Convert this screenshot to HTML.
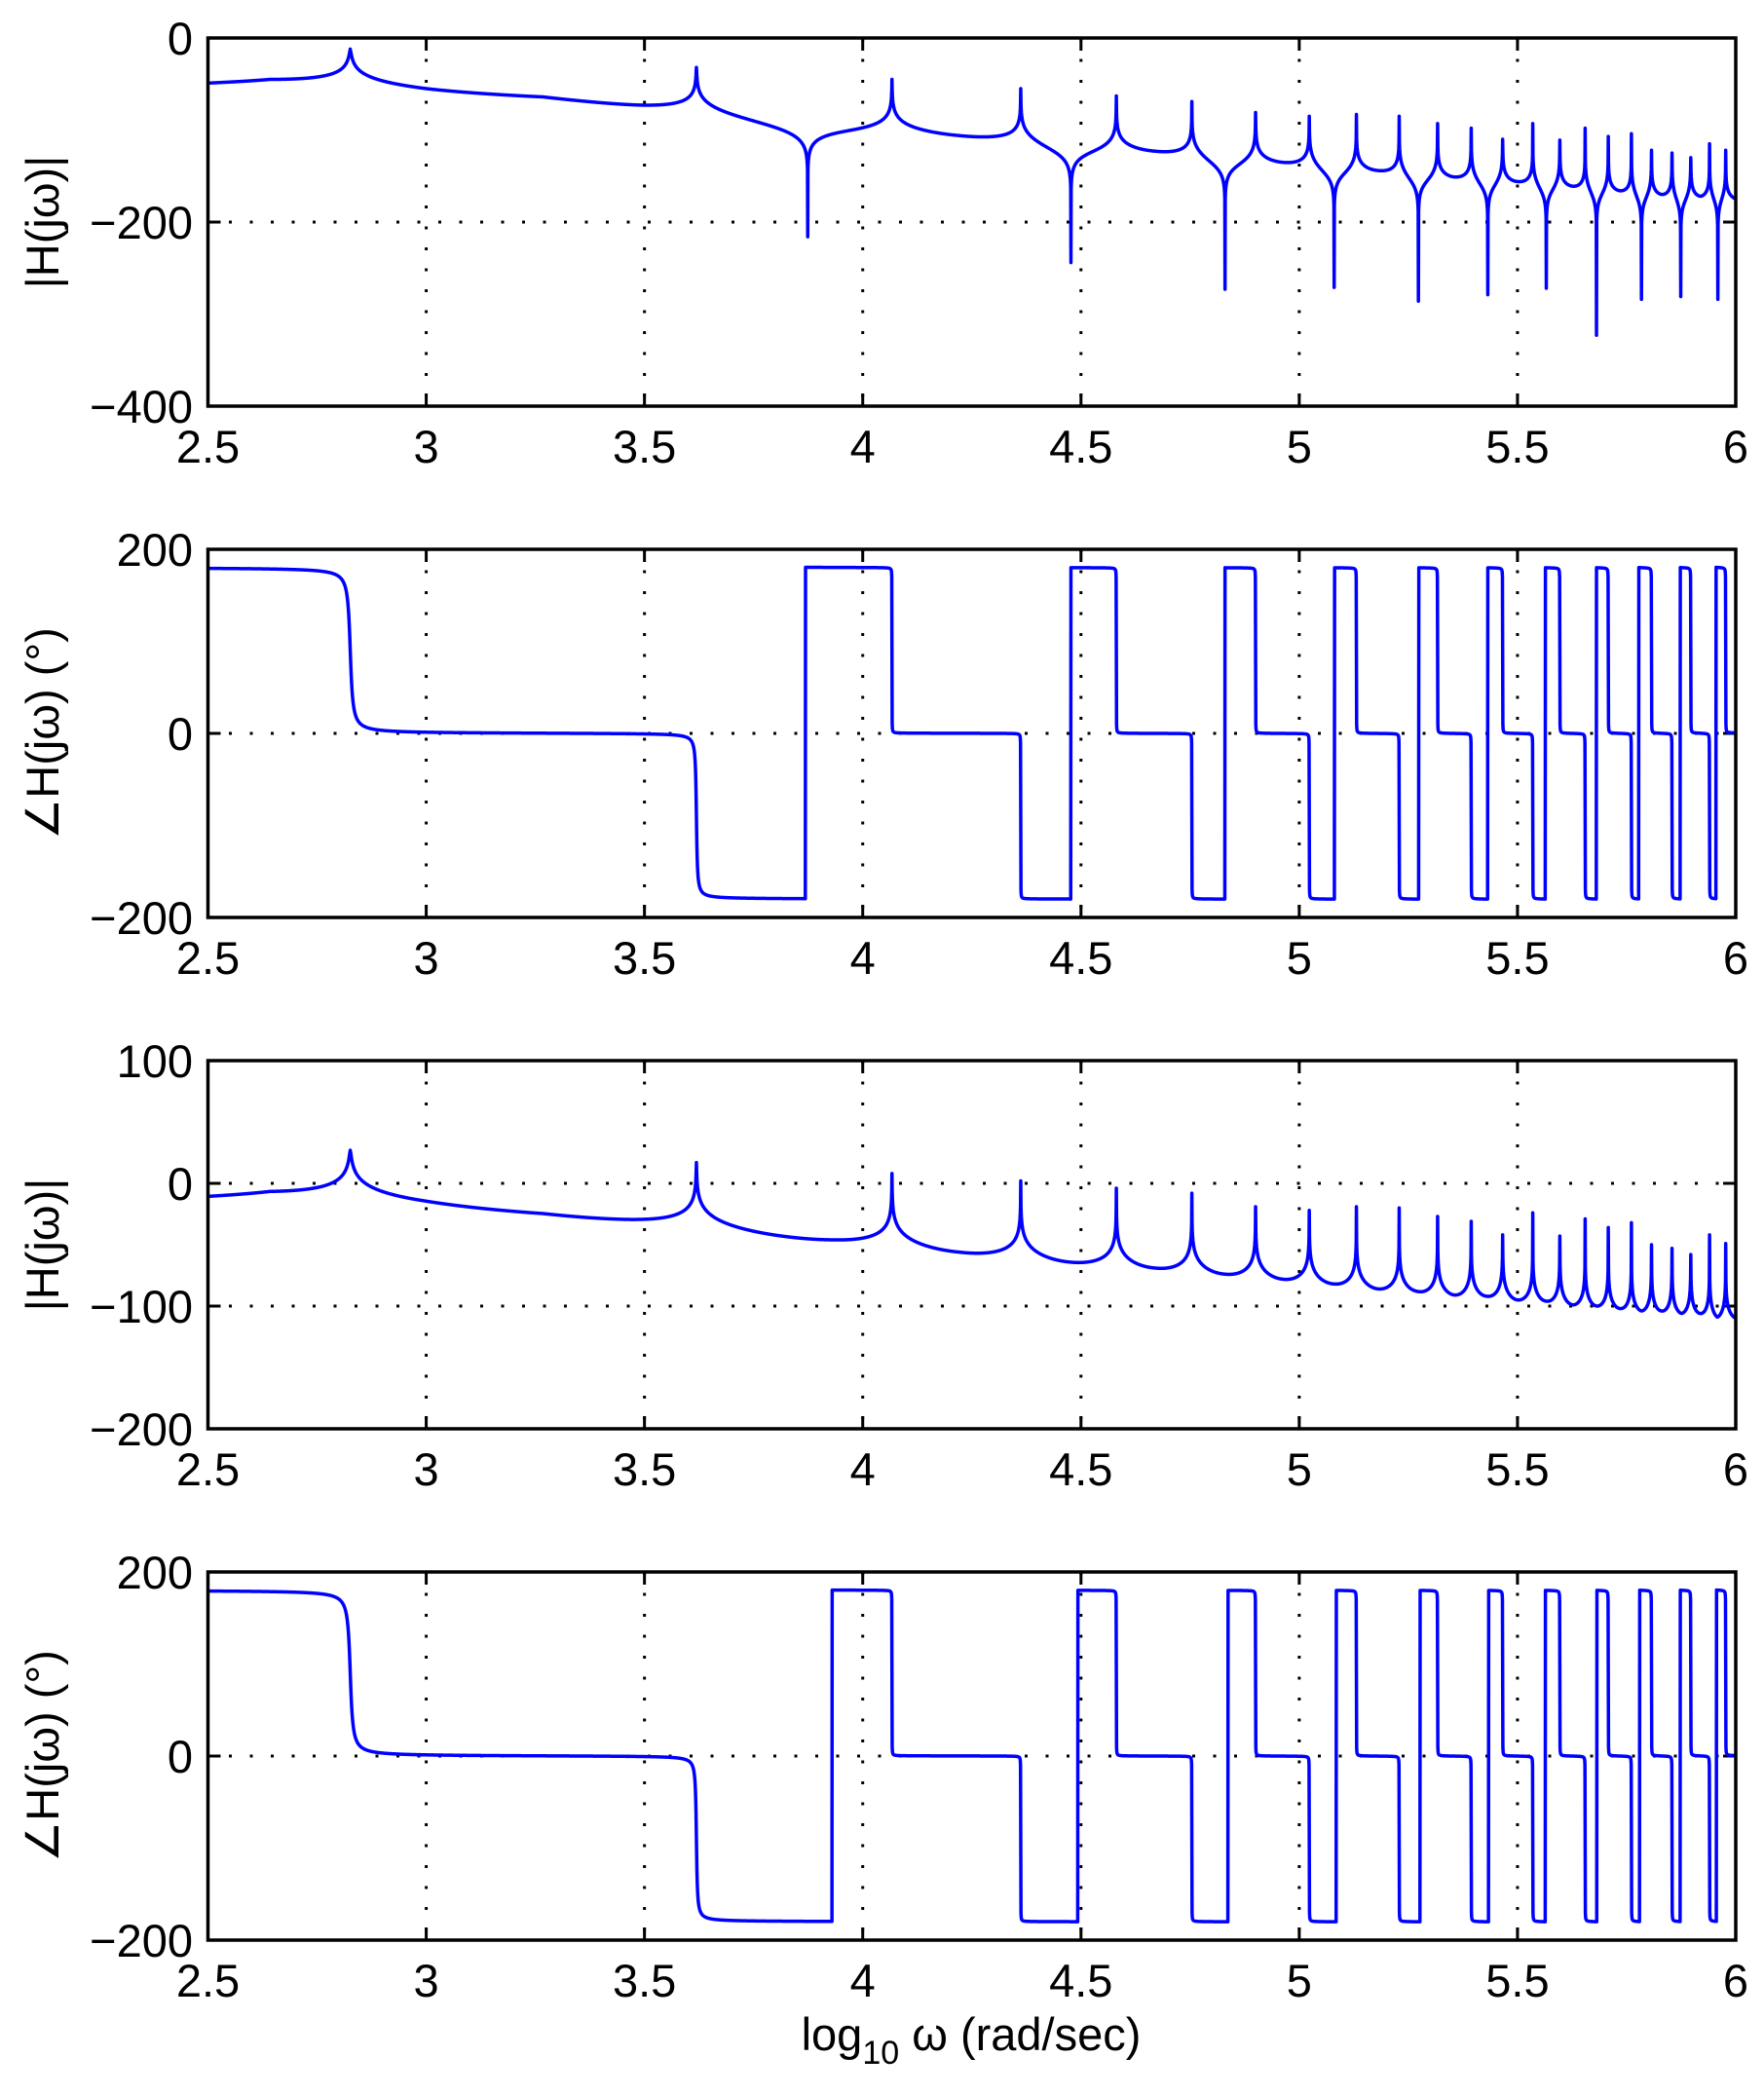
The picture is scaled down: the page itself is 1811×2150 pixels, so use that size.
<!DOCTYPE html>
<html><head><meta charset="utf-8"><style>html,body{margin:0;padding:0;background:#fff}svg{display:block}</style></head>
<body>
<svg id="s" width="1811" height="2150" xmlns="http://www.w3.org/2000/svg" font-family="Liberation Sans, Arial, sans-serif">
<rect width="1811" height="2150" fill="#fff"/>
<g id="g"></g>
<text x="997" y="2105" font-size="47" text-anchor="middle">log<tspan font-size="34" dy="14">10</tspan><tspan dy="-14"> ω (rad/sec)</tspan></text>
</svg>
<script>
var X0=213.5,X1=1782,H=378,tops=[39,564,1089,1614];
function px(x){return X0+(x-2.5)/3.5*(X1-X0);}
var poles=[2.826,3.619,4.067,4.362,4.581,4.754,4.900,5.023,5.131,5.229,5.317,5.394,5.466,5.535,5.597,5.655,5.708,5.761,5.807,5.854,5.897,5.940,5.977];
var pz=[0.01,0.004];for(var i=2;i<poles.length;i++)pz.push(0.0002);
var mz=[0.004,0.0005];for(i=2;i<poles.length;i++)mz.push(0.000001);
var zeros1=[3.874,4.477,4.830,5.080,5.273,5.432,5.566,5.681,5.784,5.874,5.959];
var top1=[-12,-32,-45,-55,-63,-69,-81,-85,-83,-85,-93,-98,-110,-93,-111,-98,-107,-104,-122,-125,-130,-115,-122];
var bot1=[-216,-244,-273,-271,-286,-279,-272,-323,-284,-281,-284];
var top3=[27,17,8,2,-4,-8,-19,-22,-19,-20,-27,-31,-42,-24,-43,-29,-36,-32,-50,-53,-58,-42,-49];
var ctrl1=[[2.5,-49],[2.642,-45],[3.0,-55],[3.267,-64],[3.5,-73],[4.22,-106],[4.67,-123],[4.96,-135],[5.18,-144],[5.355,-151],[5.50,-156],[5.626,-161],[5.735,-166],[5.83,-170],[5.92,-172],[6,-175]];
var ctrl3=[[2.5,-10.6],[2.642,-6.6],[3.0,-14.5],[3.267,-24.6],[3.426,-29],[3.93,-46],[4.22,-56],[4.47,-64],[4.67,-69],[4.83,-74],[4.96,-78],[5.08,-82],[5.18,-86],[5.27,-88],[5.355,-91],[5.43,-92],[5.50,-95],[5.566,-96],[5.626,-99],[5.682,-100],[5.735,-102],[5.784,-104],[5.83,-104],[5.876,-106],[5.918,-106],[5.958,-109],[6,-110]];
function c(d,z){var r=Math.pow(10,d);var a=1-r*r,b=2*z*r;return -10*Math.log10(a*a+b*b+1e-30)+(d>0?40*d:0);}
function S(x,zs){var s=0;for(var i=0;i<poles.length;i++)s+=c(x-poles[i],mz[i]);for(i=0;i<zs.length;i++)s-=c(x-zs[i],0.000001);return s;}
function grid(){var xs=[];for(var x=2.5;x<=6.00001;x+=0.0005)xs.push(+x.toFixed(5));poles.concat(zeros1).forEach(function(p){xs.push(p);});xs.sort(function(a,b){return a-b});return xs;}
var XS=grid();
function interp(k,x){for(var i=0;i<k.length-1;i++){if(x<=k[i+1][0]){var t=(x-k[i][0])/(k[i+1][0]-k[i][0]);return k[i][1]+t*(k[i+1][1]-k[i][1]);}}return k[k.length-1][1];}
function mag(ctrl,zs,tops_,bots){
 var kn=ctrl.map(function(p){return [p[0],p[1]-S(p[0],zs)];});
 return XS.map(function(x){var y=interp(kn,x)+S(x,zs);
  for(var i=0;i<poles.length;i++){if(Math.abs(x-poles[i])<1e-7){y=tops_[i];break;}if(Math.abs(x-poles[i])<0.012&&y>tops_[i])y=tops_[i];}
  for(i=0;i<zs.length;i++){if(Math.abs(x-zs[i])<1e-7){y=bots[i];break;}if(Math.abs(x-zs[i])<0.012&&y<bots[i])y=bots[i];}
  return y;});}
function phase(wr){return XS.map(function(x){var p=180;for(var i=0;i<poles.length;i++){var r=Math.pow(10,x-poles[i]);p-=Math.atan2(2*pz[i]*r,1-r*r)/Math.PI*180;}
 for(i=0;i<wr.length;i++)if(x>=wr[i])p+=360;return p;});}
var wr2=[3.869,4.477,4.830,5.081,5.274,5.432,5.564,5.681,5.778,5.873,5.955];
var wr4=[3.930,4.493,4.837,5.085,5.277,5.434,5.564,5.682,5.780,5.873,5.956];
var plots=[
 {ymin:-400,ymax:0,ticks:[0,-200,-400],lab:"|H(jω)|",data:mag(ctrl1,zeros1,top1,bot1)},
 {ymin:-200,ymax:200,ticks:[200,0,-200],lab:"∠H(jω) (°)",data:phase(wr2)},
 {ymin:-200,ymax:100,ticks:[100,0,-100,-200],lab:"|H(jω)|",data:mag(ctrl3,[],top3,[])},
 {ymin:-200,ymax:200,ticks:[200,0,-200],lab:"∠H(jω) (°)",data:phase(wr4)}];
var out="";
plots.forEach(function(P,k){
 var t=tops[k],b=t+H;
 function py(v){return b-(v-P.ymin)/(P.ymax-P.ymin)*H;}
 var xt=[2.5,3,3.5,4,4.5,5,5.5,6];
 xt.forEach(function(x){var X=px(x);
  if(x>2.5&&x<6)out+='<line x1="'+X+'" y1="'+t+'" x2="'+X+'" y2="'+b+'" stroke="#000" stroke-width="3" stroke-dasharray="3 18.5"/>';
  out+='<line x1="'+X+'" y1="'+b+'" x2="'+X+'" y2="'+(b-13)+'" stroke="#000" stroke-width="3"/><line x1="'+X+'" y1="'+t+'" x2="'+X+'" y2="'+(t+13)+'" stroke="#000" stroke-width="3"/>';
  out+='<text x="'+X+'" y="'+(b+58)+'" font-size="47" text-anchor="middle">'+x+'</text>';});
 P.ticks.forEach(function(v){var Y=py(v);
  if(v>P.ymin&&v<P.ymax)out+='<line x1="'+X0+'" y1="'+Y+'" x2="'+X1+'" y2="'+Y+'" stroke="#000" stroke-width="3" stroke-dasharray="3 18.5"/>';
  out+='<line x1="'+X0+'" y1="'+Y+'" x2="'+(X0+13)+'" y2="'+Y+'" stroke="#000" stroke-width="3"/><line x1="'+X1+'" y1="'+Y+'" x2="'+(X1-13)+'" y2="'+Y+'" stroke="#000" stroke-width="3"/>';
  out+='<text x="198" y="'+(Y+17)+'" font-size="47" text-anchor="end">'+(v<0?'−'+(-v):v)+'</text>';});
 var d="";P.data.forEach(function(v,i){d+=(i?"L":"M")+px(XS[i]).toFixed(2)+","+py(v).toFixed(2);});
 out+='<path d="'+d+'" fill="none" stroke="#0000ff" stroke-width="3.5" stroke-linejoin="round"/>';
 out+='<rect x="'+X0+'" y="'+t+'" width="'+(X1-X0)+'" height="'+H+'" fill="none" stroke="#000" stroke-width="3.5"/>';
 out+='<text transform="translate(60,'+(t+H/2)+') rotate(-90)" font-size="47" text-anchor="middle">'+P.lab+'</text>';
});
document.getElementById("g").innerHTML=out;
</script>
</body></html>
